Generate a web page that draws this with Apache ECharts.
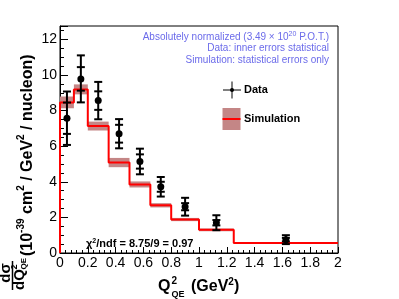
<!DOCTYPE html>
<html>
<head>
<meta charset="utf-8">
<script src="https://cdn.jsdelivr.net/npm/echarts@6/dist/echarts.min.js"></script>
<style>html,body{margin:0;padding:0;background:#fff}#c{width:399px;height:299px}</style>
</head>
<body>
<div id="c"></div>
<script>
// ---- data ----
const binEdges = [0, 0.1, 0.2, 0.35, 0.5, 0.65, 0.8, 1.0, 1.25, 2.0];
const simValues = [8.46, 9.19, 7.13, 5.08, 3.85, 2.68, 1.88, 1.30, 0.56];
const simErrors = [0.33, 0.28, 0.25, 0.26, 0.17, 0.12, 0.09, 0.08, 0.05];
const dataX = [0.05, 0.15, 0.275, 0.425, 0.575, 0.725, 0.9, 1.125, 1.625];
const dataY = [7.57, 9.78, 8.56, 6.70, 5.14, 3.72, 2.60, 1.70, 0.75];
const dataStat = [0.88, 0.66, 0.52, 0.50, 0.40, 0.28, 0.20, 0.15, 0.10];
const dataTotal = [1.50, 1.32, 1.05, 0.82, 0.72, 0.55, 0.50, 0.42, 0.25];
const xTicks = [0, 0.2, 0.4, 0.6, 0.8, 1, 1.2, 1.4, 1.6, 1.8, 2];
const yTicks = [0, 2, 4, 6, 8, 10, 12];

const FONT = "'Liberation Sans', Arial, Helvetica, sans-serif";
const BAND = '#c48686';
const NOTE = '#6b6bea';

const bandData = simValues.map((v, i) => [binEdges[i], binEdges[i + 1], v, simErrors[i]]);
const stepData = [[binEdges[0], 0]];
simValues.forEach((v, i) => stepData.push([binEdges[i], v]));
stepData.push([binEdges[binEdges.length - 1], simValues[simValues.length - 1]]);
const pointData = dataX.map((x, i) => [x, dataY[i], dataStat[i], dataTotal[i]]);

const chart = echarts.init(document.getElementById('c'), null, {renderer: 'canvas'});
chart.setOption({
  animation: false,
  backgroundColor: '#fff',
  grid: {left: 60, right: 61, top: 26, bottom: 46, show: true, borderColor: '#000', borderWidth: 1, backgroundColor: 'transparent'},
  xAxis: {
    type: 'value', min: 0, max: 2, interval: 0.2,
    axisLine: {show: true, onZero: false, lineStyle: {color: '#000', width: 1}},
    axisTick: {show: true, inside: true, length: 6, lineStyle: {color: '#000'}},
    minorTick: {show: true, splitNumber: 5, length: 3, lineStyle: {color: '#000'}},
    splitLine: {show: false},
    axisLabel: {color: '#000', fontSize: 14, fontFamily: FONT, margin: 3,
      formatter: v => (xTicks.some(t => Math.abs(t - v) < 1e-9) ? String(+v.toFixed(1)) : '')}
  },
  yAxis: {
    type: 'value', min: 0, max: 12.75, interval: 2,
    axisLine: {show: true, onZero: false, lineStyle: {color: '#000', width: 1}},
    axisTick: {show: true, inside: true, length: 8, lineStyle: {color: '#000'}},
    minorTick: {show: true, splitNumber: 4, length: 4, lineStyle: {color: '#000'}},
    splitLine: {show: false},
    axisLabel: {color: '#000', fontSize: 14, fontFamily: FONT, margin: 3, showMaxLabel: false,
      formatter: v => (yTicks.indexOf(v) >= 0 ? String(v) : '')}
  },
  series: [
    {
      type: 'custom', name: 'band', data: bandData, z: 2,
      encode: {x: [0, 1], y: 2},
      renderItem: (params, api) => {
        const x0 = api.value(0), x1 = api.value(1), y = api.value(2), e = api.value(3);
        const p0 = api.coord([x0, y + e]);
        const p1 = api.coord([x1, y - e]);
        return {type: 'rect', shape: {x: p0[0], y: p0[1], width: p1[0] - p0[0], height: p1[1] - p0[1]},
          style: {fill: BAND}};
      }
    },
    {
      type: 'line', name: 'Simulation', data: stepData, step: 'end', symbol: 'none', z: 3,
      lineStyle: {color: '#ff0000', width: 2}
    },
    {
      type: 'custom', name: 'Data', data: pointData, z: 4,
      encode: {x: 0, y: 1},
      renderItem: (params, api) => {
        const x = api.value(0), y = api.value(1), s = api.value(2), t = api.value(3);
        const c = api.coord([x, y]);
        const yt = api.coord([x, y + t])[1], yb = api.coord([x, y - t])[1];
        const ys1 = api.coord([x, y + s])[1], ys2 = api.coord([x, y - s])[1];
        const hw = 4;
        const st = {stroke: '#000', lineWidth: 2};
        const cap = yy => ({type: 'line', shape: {x1: c[0] - hw, y1: yy, x2: c[0] + hw, y2: yy}, style: st});
        return {type: 'group', children: [
          {type: 'line', shape: {x1: c[0], y1: yt, x2: c[0], y2: yb}, style: st},
          cap(yt), cap(yb), cap(ys1), cap(ys2),
          {type: 'circle', shape: {cx: c[0], cy: c[1], r: 3.5}, style: {fill: '#000'}}
        ]};
      }
    }
  ],
  graphic: [
    // top annotations
    {type: 'text', x: 329, y: 37, style: {text: 'Absolutely normalized (3.49 \u00d7 10{s|20} P.O.T.)', rich: {s: {fontSize: 7, verticalAlign: 'top', lineHeight: 7, fill: NOTE, fontFamily: FONT}}, fontSize: 10, lineHeight: 13, fontFamily: FONT, fill: NOTE, align: 'right', verticalAlign: 'middle'}},
    {type: 'text', x: 329, y: 48.5, style: {text: 'Data: inner errors statistical', fontSize: 10, fontFamily: FONT, fill: NOTE, align: 'right', verticalAlign: 'middle'}},
    {type: 'text', x: 329, y: 60, style: {text: 'Simulation: statistical errors only', fontSize: 10, fontFamily: FONT, fill: NOTE, align: 'right', verticalAlign: 'middle'}},
    // legend: data
    {type: 'line', shape: {x1: 223, y1: 90, x2: 241, y2: 90}, style: {stroke: '#000', lineWidth: 1}},
    {type: 'line', shape: {x1: 232, y1: 81.5, x2: 232, y2: 98.5}, style: {stroke: '#000', lineWidth: 1}},
    {type: 'circle', shape: {cx: 232, cy: 90, r: 2}, style: {fill: '#000'}},
    {type: 'text', x: 244, y: 90, style: {text: 'Data', fontSize: 11, fontWeight: 'bold', fontFamily: FONT, fill: '#000', verticalAlign: 'middle'}},
    // legend: simulation
    {type: 'rect', shape: {x: 222.5, y: 108, width: 18, height: 22}, style: {fill: BAND}},
    {type: 'line', shape: {x1: 222.5, y1: 119, x2: 240.5, y2: 119}, style: {stroke: '#ff0000', lineWidth: 2}},
    {type: 'text', x: 244, y: 119, style: {text: 'Simulation', fontSize: 11, fontWeight: 'bold', fontFamily: FONT, fill: '#000', verticalAlign: 'middle'}},
    // chi2
    {type: 'text', x: 86, y: 244, style: {text: '\u03c7{s|2}/ndf = 8.75/9 = 0.97', rich: {s: {fontSize: 7, fontWeight: 'bold', verticalAlign: 'top', lineHeight: 7, fontFamily: FONT}}, fontSize: 11, lineHeight: 13, fontWeight: 'bold', fontFamily: FONT, fill: '#000', verticalAlign: 'middle'}},
    // x title
    {type: 'text', x: 158, y: 287, style: {text: 'Q', fontSize: 16, fontWeight: 'bold', fontFamily: FONT, fill: '#000', verticalAlign: 'middle'}},
    {type: 'text', x: 171.5, y: 281, style: {text: '2', fontSize: 10, fontWeight: 'bold', fontFamily: FONT, fill: '#000', verticalAlign: 'middle'}},
    {type: 'text', x: 171.5, y: 294.5, style: {text: 'QE', fontSize: 9, fontWeight: 'bold', fontFamily: FONT, fill: '#000', verticalAlign: 'middle'}},
    {type: 'text', x: 191, y: 287, style: {text: '(GeV{s|2})', rich: {s: {fontSize: 10, fontWeight: 'bold', verticalAlign: 'top', lineHeight: 10, fontFamily: FONT}}, fontSize: 16, lineHeight: 20, fontWeight: 'bold', fontFamily: FONT, fill: '#000', verticalAlign: 'middle'}},
    // y title (rotated)
    {type: 'group', x: 0, y: 300, rotation: Math.PI / 2, children: [
      {type: 'text', x: 27, y: 6, style: {text: 'd\u03c3', fontSize: 15, fontWeight: 'bold', fontFamily: FONT, fill: '#000', align: 'center', verticalAlign: 'middle'}},
      {type: 'line', shape: {x1: 10, y1: 12.5, x2: 39, y2: 12.5}, style: {stroke: '#000', lineWidth: 1.5}},
      {type: 'text', x: 10, y: 19.5, style: {text: 'dQ', fontSize: 15, fontWeight: 'bold', fontFamily: FONT, fill: '#000', verticalAlign: 'middle'}},
      {type: 'text', x: 30.5, y: 15, style: {text: '2', fontSize: 9, fontWeight: 'bold', fontFamily: FONT, fill: '#000', verticalAlign: 'middle'}},
      {type: 'text', x: 30.5, y: 24, style: {text: 'QE', fontSize: 8, fontWeight: 'bold', fontFamily: FONT, fill: '#000', verticalAlign: 'middle'}},
      {type: 'text', x: 44, y: 26, style: {
        text: '{m|(10}{s|-39}{m| cm}{s|2}{m| / GeV}{s|2}{m| / nucleon)}',
        rich: {
          m: {fontSize: 16, fontWeight: 'bold', fontFamily: FONT, lineHeight: 20, verticalAlign: 'bottom', fill: '#000'},
          s: {fontSize: 10, fontWeight: 'bold', fontFamily: FONT, lineHeight: 10, verticalAlign: 'top', fill: '#000'}
        },
        fontSize: 16, fontWeight: 'bold', fontFamily: FONT, fill: '#000', verticalAlign: 'middle'}}
    ]}
  ]
});
</script>
</body>
</html>
